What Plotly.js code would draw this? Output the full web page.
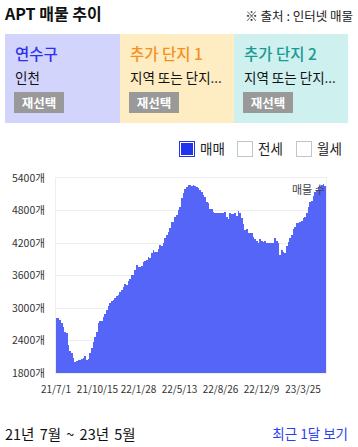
<!DOCTYPE html>
<html><head><meta charset="utf-8">
<script src="https://cdn.plot.ly/plotly-3.0.1.min.js"></script>
<style>
body{margin:0;width:358px;height:447px;background:#fff;font-family:"Noto Sans CJK KR","Noto Sans",sans-serif;color:#111;position:relative;overflow:hidden}
.abs{position:absolute;white-space:nowrap}
#title{left:5px;top:2px;font-size:16px;font-weight:bold;line-height:22px}
#src{right:5px;top:7px;font-size:12.5px;line-height:17px;color:#222}
.card{position:absolute;top:34px;height:89px;width:115px}
.card .h{position:absolute;left:10px;top:9px;font-size:15.5px;line-height:21px;font-weight:500}
.card .s{position:absolute;left:10px;top:34px;font-size:13.5px;line-height:19px;color:#111}
.card .b{position:absolute;left:9px;top:58px;width:50px;height:21px;background:#999;color:#fff;font-weight:bold;font-size:12.5px;line-height:21px;text-align:center}
.chk{position:absolute;top:141px;width:14px;height:14px;border:1px solid #c0c4cc;background:#fff}
.lbl{position:absolute;top:138px;font-size:13.5px;line-height:20px;color:#222}
#chart{position:absolute;left:0;top:165px;width:358px;height:240px}
#range{left:5px;top:423px;font-size:14.5px;line-height:21px;color:#111;word-spacing:2px}
#recent{right:10px;top:423px;font-size:13.5px;line-height:21px;color:#2b3ef0}
</style></head>
<body>
<div id="title" class="abs">APT 매물 추이</div>
<div id="src" class="abs">※ 출처 : 인터넷 매물</div>
<div class="card" style="left:5px;background:#d3d4fb"><div class="h" style="color:#2d2ff0">연수구</div><div class="s">인천</div><div class="b">재선택</div></div>
<div class="card" style="left:120px;background:#feecc2;width:114px"><div class="h" style="color:#f5921e">추가 단지 1</div><div class="s">지역 또는 단지...</div><div class="b">재선택</div></div>
<div class="card" style="left:234px;background:#cef0ee;width:114px"><div class="h" style="color:#1a9a94">추가 단지 2</div><div class="s">지역 또는 단지...</div><div class="b">재선택</div></div>
<div class="chk" style="left:179px;border:1px solid #2233ee;background:#2233ee;box-shadow:inset 0 0 0 1px #fff"></div>
<div class="lbl" style="left:200px">매매</div>
<div class="chk" style="left:237px"></div>
<div class="lbl" style="left:258px">전세</div>
<div class="chk" style="left:296px"></div>
<div class="lbl" style="left:317px">월세</div>
<div id="chart"></div>
<div id="range" class="abs">21년 7월 ~ 23년 5월</div>
<div id="recent" class="abs">최근 1달 보기</div>
<script>
const seriesName = "매물 수";
const startDate = "2021-07-01";
const endDate = "2023-05-23";
const listings = [
 2821,2815,2778,2729,2655,2563,2545,2317,2206,2163,2071,2009,2021,2046,2046,2060,2071,2114,2046,2052,
 2163,2256,2378,2471,2563,2716,2760,2760,2840,2889,2963,3037,3086,3135,3148,3191,3221,3240,
 3300,3330,3393,3443,3425,3498,3530,3609,3609,3701,3794,3756,3756,3770,3843,3873,3892,3935,3916,4009,
 4071,4033,4033,4089,4163,4145,4194,4286,4348,4409,4471,4582,4582,4686,4717,4809,4870,5025,5117,5191,
 5240,5271,5271,5252,5271,5252,5228,5209,5178,5148,5086,5043,4963,4932,4827,4827,4778,4760,4747,4747,
 4747,4760,4760,4778,4686,4637,4747,4735,4735,4747,4698,4790,4760,4655,4545,4440,4452,4391,4391,4391,
 4317,4268,4243,4206,4268,4243,4225,4237,4206,4194,4194,4194,4194,4286,4237,4206,3978,4071,4040,4022,
 4145,4225,4286,4348,4452,4489,4563,4575,4594,4612,4655,4686,4760,4858,4950,4981,5074,5135,5178,5240,
 5240,5271,5290,5252
];
const tickDates = ["2021-07-01","2021-10-15","2022-01-28","2022-05-13","2022-08-26","2022-12-09","2023-03-25"];
const tickLabels = ["21/7/1","21/10/15","22/1/28","22/5/13","22/8/26","22/12/9","23/3/25"];
const yTicks = [1800,2400,3000,3600,4200,4800,5400];
const yLabels = yTicks.map(v => v + "개");

const t0 = new Date(startDate + "T00:00:00Z").getTime();
const t1 = new Date(endDate + "T00:00:00Z").getTime();
const step = (t1 - t0) / listings.length;
const xs = listings.map((_, i) => new Date(t0 + (i + 0.5) * step).toISOString());

const baseline = 1800;
Plotly.newPlot("chart", [{
  type: "bar", x: xs, y: listings.map(v => v - baseline), base: baseline,
  width: step, marker: {color: "#5565f8", line: {width: 0}}, name: seriesName, hoverinfo: "skip"
}], {
  width: 358, height: 240,
  margin: {l: 56, r: 32, t: 13, b: 32},
  paper_bgcolor: "#fff", plot_bgcolor: "#fff",
  showlegend: false, bargap: 0,
  font: {family: '"Noto Sans CJK KR","Noto Sans",sans-serif', size: 11, color: "#333"},
  xaxis: {type: "date", range: [startDate, endDate], tickmode: "array", tickvals: tickDates, ticktext: tickLabels,
    showgrid: false, showline: true, linecolor: "#eeeeee", mirror: true, ticks: "", zeroline: false,
    tickfont: {size: 10, color: "#333"}, tickangle: 0, ticklabelstandoff: 7},
  yaxis: {range: [1800, 5400], tickmode: "array", tickvals: yTicks, ticktext: yLabels,
    showgrid: true, gridcolor: "#eeeeee", showline: true, linecolor: "#eeeeee", mirror: true, ticks: "", zeroline: false,
    tickfont: {size: 10.5, color: "#333"}, ticklabelstandoff: 8},
  annotations: [{text: seriesName, xref: "paper", yref: "paper", x: 1.005, y: 0.944, xanchor: "right", yanchor: "middle",
    showarrow: false, font: {size: 11, color: "#444"}}]
}, {displayModeBar: false, staticPlot: true});
</script>
</body></html>
